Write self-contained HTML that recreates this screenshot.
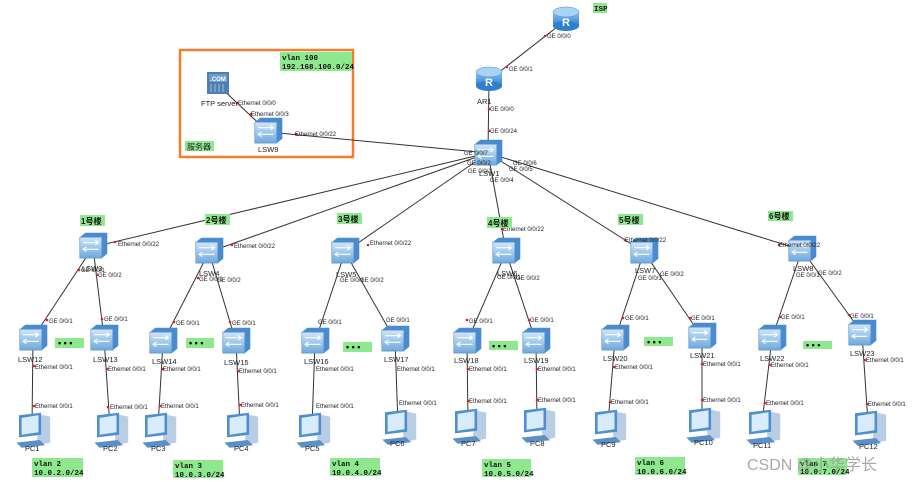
<!DOCTYPE html>
<html><head><meta charset="utf-8"><style>
html,body{margin:0;padding:0;background:#fff}
svg{display:block}
text{font-family:"Liberation Sans","Noto Sans CJK SC",sans-serif}
.p{font-size:6px;fill:#222}
.n{font-size:7.5px;fill:#222}
.m{font-family:"Liberation Mono","Noto Sans CJK SC",monospace;font-size:7.5px;fill:#111;font-weight:bold}
.g{fill:#8ee88e}
.l{stroke:#333;stroke-width:1;fill:none}
</style></head><body>
<svg width="915" height="482" viewBox="0 0 915 482" xmlns="http://www.w3.org/2000/svg">
<defs>
<linearGradient id="sg" x1="0" y1="0" x2="0" y2="1"><stop offset="0" stop-color="#cfe6fb"/><stop offset="1" stop-color="#6fa8dc"/></linearGradient>
<linearGradient id="rg" x1="0" y1="0" x2="0" y2="1"><stop offset="0" stop-color="#8cc2f0"/><stop offset="1" stop-color="#2f7fcf"/></linearGradient>
<g id="sw" transform="scale(1.1)">
<path d="M-12,-8 L-7,-12 L13,-12 L13,7 L8,11 L-12,11 Z" fill="#4a8bd0"/>
<rect x="-12" y="-8" width="20" height="19" fill="url(#sg)" stroke="#5b93c9" stroke-width="0.6"/>
<path d="M-9,-3 H5 M2,-5 L5,-3 L2,-1 M5,3 H-9 M-6,1 L-9,3 L-6,5" stroke="#fff" stroke-width="1" fill="none"/>
</g>
<g id="rt">
<rect x="-13" y="-6" width="26" height="14" fill="url(#rg)"/>
<ellipse cx="0" cy="8" rx="13" ry="5" fill="#2f7fcf"/>
<ellipse cx="0" cy="-6" rx="13" ry="5" fill="#a9d3f5" stroke="#4a8bd0" stroke-width="0.5"/>
<text x="0" y="8" font-size="11" fill="#fff" text-anchor="middle" font-weight="bold">R</text>
</g>
<g id="pc" transform="scale(1.3)">
<path d="M4,-10 L14,-8 L14,12 L4,14 Z" fill="#b9cde3"/>
<path d="M-10,-9 L7,-11 L7,6 L-10,8 Z" fill="#4f8fd0"/>
<path d="M-8,-7 L5,-9 L5,4 L-8,6 Z" fill="#d8ecfb"/>
<path d="M-12,12 L6,10 L10,14 L-8,16 Z" fill="#5a90c8"/>
</g>
</defs>

<rect x="180" y="50" width="173" height="107" fill="none" stroke="#f08030" stroke-width="2.5"/>
<rect x="280" y="52" width="72" height="19" class="g"/>
<text x="282" y="60" class="m">vlan 100</text>
<text x="282" y="69" class="m">192.168.100.0/24</text>
<rect x="185" y="141" width="29" height="10" class="g"/>
<text x="187" y="149.5" style="font-size:8px;fill:#222">服务器</text>
<rect x="593" y="3" width="14" height="10" class="g"/>
<text x="594" y="11" class="m">ISP</text>

<path class="l" d="M566,20 L489,80 M489,80 L488,153 M268,132 L488,153 M218,85 L268,132
M488,153 L93,247 M488,153 L209,252 M488,153 L345,252 M488,153 L506,252 M488,153 L644,252 M488,153 L802,250
M93,247 L33,338 M93,247 L104,338 M33,338 L32,427 M104,338 L110,427
M209,252 L163,342 M209,252 L236,342 M163,342 L158,427 M236,342 L240,427
M345,252 L315,342 M345,252 L395,340 M315,342 L312,427 M395,340 L398,425
M506,252 L467,342 M506,252 L536,342 M467,342 L468,422 M536,342 L537,422
M644,252 L615,339 M644,252 L702,337 M615,339 L608,423 M702,337 L702,422
M802,250 L772,338 M802,250 L862,333 M772,338 L762,423 M862,333 L868,423"/>

<g fill="#e02020">
<circle cx="545" cy="36" r="1.3"/><circle cx="507" cy="67" r="1.3"/><circle cx="489" cy="109" r="1.3"/><circle cx="489" cy="131" r="1.3"/>
<circle cx="296" cy="134" r="1.3"/><circle cx="237" cy="103" r="1.3"/><circle cx="251" cy="114" r="1.3"/>
<circle cx="115" cy="242" r="1.3"/><circle cx="232" cy="245" r="1.3"/><circle cx="368" cy="245" r="1.3"/><circle cx="502" cy="229" r="1.3"/><circle cx="625" cy="240" r="1.3"/><circle cx="779" cy="245" r="1.3"/>
<circle cx="79" cy="270" r="1.3"/><circle cx="97" cy="275" r="1.3"/><circle cx="47" cy="320" r="1.3"/><circle cx="102" cy="319" r="1.3"/>
<circle cx="34" cy="366" r="1.3"/><circle cx="34" cy="406" r="1.3"/><circle cx="107" cy="369" r="1.3"/><circle cx="108" cy="407" r="1.3"/>
<circle cx="198" cy="278" r="1.3"/><circle cx="174" cy="322" r="1.3"/><circle cx="230" cy="322" r="1.3"/><circle cx="163" cy="369" r="1.3"/><circle cx="160" cy="406" r="1.3"/><circle cx="238" cy="371" r="1.3"/><circle cx="240" cy="405" r="1.3"/>
<circle cx="467" cy="320" r="1.3"/><circle cx="529" cy="320" r="1.3"/><circle cx="468" cy="369" r="1.3"/><circle cx="468" cy="401" r="1.3"/><circle cx="537" cy="369" r="1.3"/><circle cx="537" cy="400" r="1.3"/>
<circle cx="623" cy="318" r="1.3"/><circle cx="690" cy="318" r="1.3"/><circle cx="614" cy="367" r="1.3"/><circle cx="610" cy="402" r="1.3"/><circle cx="702" cy="364" r="1.3"/><circle cx="702" cy="400" r="1.3"/>
<circle cx="780" cy="317" r="1.3"/><circle cx="849" cy="315" r="1.3"/><circle cx="770" cy="365" r="1.3"/><circle cx="765" cy="403" r="1.3"/><circle cx="865" cy="360" r="1.3"/><circle cx="867" cy="404" r="1.3"/>
</g>

<use href="#rt" x="566" y="18"/>
<use href="#rt" x="489" y="78"/>
<g transform="translate(207,72)"><rect x="0" y="0" width="22" height="22" fill="#4f7fb0"/><rect x="2" y="2" width="18" height="8" fill="#6e9cc8"/><text x="11" y="9" font-size="6" fill="#fff" text-anchor="middle" font-weight="bold">.COM</text><path d="M4,12 V20 M8,12 V20 M12,12 V20 M16,12 V20" stroke="#9fbfdc" stroke-width="1"/></g>
<use href="#sw" x="268" y="131"/>
<use href="#sw" x="488" y="153"/>
<use href="#sw" x="93" y="246"/><use href="#sw" x="209" y="251"/><use href="#sw" x="345" y="251"/><use href="#sw" x="506" y="251"/><use href="#sw" x="644" y="251"/><use href="#sw" x="802" y="249"/>
<use href="#sw" x="33" y="338"/><use href="#sw" x="104" y="338"/><use href="#sw" x="163" y="341"/><use href="#sw" x="236" y="341"/><use href="#sw" x="315" y="341"/><use href="#sw" x="395" y="339"/>
<use href="#sw" x="467" y="341"/><use href="#sw" x="536" y="341"/><use href="#sw" x="615" y="338"/><use href="#sw" x="702" y="336"/><use href="#sw" x="772" y="338"/><use href="#sw" x="862" y="333"/>
<use href="#pc" x="32" y="427"/><use href="#pc" x="110" y="427"/><use href="#pc" x="158" y="427"/><use href="#pc" x="240" y="427"/><use href="#pc" x="312" y="427"/><use href="#pc" x="398" y="424"/>
<use href="#pc" x="468" y="423"/><use href="#pc" x="537" y="422"/><use href="#pc" x="608" y="424"/><use href="#pc" x="702" y="422"/><use href="#pc" x="762" y="424"/><use href="#pc" x="868" y="425"/>

<g class="n">
<text x="477" y="104">AR1</text><text x="201" y="106">FTP server</text><text x="258" y="152">LSW9</text><text x="479" y="176">LSW1</text>
<text x="82" y="271">LSW3</text><text x="199" y="276">LSW4</text><text x="336" y="277">LSW5</text><text x="497" y="276">LSW6</text><text x="635" y="273">LSW7</text><text x="793" y="271">LSW8</text>
<text x="18" y="362">LSW12</text><text x="93" y="362">LSW13</text><text x="152" y="364">LSW14</text><text x="224" y="365">LSW15</text><text x="304" y="364">LSW16</text><text x="384" y="362">LSW17</text>
<text x="454" y="363">LSW18</text><text x="524" y="363">LSW19</text><text x="603" y="361">LSW20</text><text x="690" y="358">LSW21</text><text x="760" y="361">LSW22</text><text x="850" y="356">LSW23</text>
<text x="25" y="451">PC1</text><text x="103" y="451">PC2</text><text x="151" y="451">PC3</text><text x="234" y="451">PC4</text><text x="305" y="451">PC5</text><text x="390" y="446">PC6</text>
<text x="461" y="446">PC7</text><text x="530" y="446">PC8</text><text x="601" y="447">PC9</text><text x="694" y="445">PC10</text><text x="753" y="448">PC11</text><text x="859" y="449">PC12</text>
</g>

<g class="p">
<text x="547" y="38">GE 0/0/0</text><text x="509" y="71">GE 0/0/1</text><text x="490" y="111">GE 0/0/0</text><text x="490" y="133">GE 0/0/24</text>
<text x="238" y="105">Ethernet 0/0/0</text><text x="251" y="116">Ethernet 0/0/3</text><text x="295" y="136">Ethernet 0/0/22</text>
<text x="464" y="155">GE 0/0/7</text><text x="467" y="165">GE 0/0/2</text><text x="468" y="173">GE 0/0/1</text><text x="490" y="182">GE 0/0/4</text><text x="513" y="165">GE 0/0/6</text><text x="509" y="171">GE 0/0/5</text>
<text x="118" y="246">Ethernet 0/0/22</text><text x="234" y="248">Ethernet 0/0/22</text><text x="370" y="245">Ethernet 0/0/22</text><text x="503" y="231">Ethernet 0/0/22</text><text x="625" y="242">Ethernet 0/0/22</text><text x="779" y="247">Ethernet 0/0/22</text>
<text x="81" y="272">GE 0/0/1</text><text x="98" y="277">GE 0/0/2</text><text x="199" y="281">GE 0/0/1</text><text x="217" y="282">GE 0/0/2</text>
<text x="340" y="282">GE 0/0/1</text><text x="360" y="282">GE 0/0/2</text><text x="497" y="279">GE 0/0/1</text><text x="516" y="280">GE 0/0/2</text>
<text x="638" y="280">GE 0/0/1</text><text x="660" y="276">GE 0/0/2</text><text x="796" y="277">GE 0/0/1</text><text x="818" y="275">GE 0/0/2</text>
<text x="49" y="323">GE 0/0/1</text><text x="104" y="321">GE 0/0/1</text><text x="176" y="325">GE 0/0/1</text><text x="232" y="325">GE 0/0/1</text>
<text x="318" y="324">GE 0/0/1</text><text x="386" y="322">GE 0/0/1</text><text x="469" y="323">GE 0/0/1</text><text x="530" y="322">GE 0/0/1</text>
<text x="625" y="320">GE 0/0/1</text><text x="691" y="320">GE 0/0/1</text><text x="781" y="319">GE 0/0/1</text><text x="850" y="318">GE 0/0/1</text>
<text x="35" y="369">Ethernet 0/0/1</text><text x="35" y="408">Ethernet 0/0/1</text><text x="108" y="371">Ethernet 0/0/1</text><text x="110" y="409">Ethernet 0/0/1</text>
<text x="163" y="371">Ethernet 0/0/1</text><text x="161" y="408">Ethernet 0/0/1</text><text x="239" y="373">Ethernet 0/0/1</text><text x="241" y="407">Ethernet 0/0/1</text>
<text x="316" y="371">Ethernet 0/0/1</text><text x="316" y="408">Ethernet 0/0/1</text><text x="397" y="371">Ethernet 0/0/1</text><text x="399" y="405">Ethernet 0/0/1</text>
<text x="469" y="371">Ethernet 0/0/1</text><text x="469" y="403">Ethernet 0/0/1</text><text x="538" y="371">Ethernet 0/0/1</text><text x="538" y="402">Ethernet 0/0/1</text>
<text x="615" y="369">Ethernet 0/0/1</text><text x="611" y="404">Ethernet 0/0/1</text><text x="703" y="366">Ethernet 0/0/1</text><text x="703" y="402">Ethernet 0/0/1</text>
<text x="771" y="367">Ethernet 0/0/1</text><text x="766" y="405">Ethernet 0/0/1</text><text x="866" y="362">Ethernet 0/0/1</text><text x="868" y="406">Ethernet 0/0/1</text>
</g>

<g style="font-size:8px;fill:#111;font-weight:bold">
<rect x="80" y="215" width="25" height="11" class="g"/><text x="81" y="224">1号楼</text>
<rect x="205" y="214" width="25" height="11" class="g"/><text x="206" y="223">2号楼</text>
<rect x="337" y="213" width="25" height="11" class="g"/><text x="338" y="222">3号楼</text>
<rect x="487" y="217" width="25" height="11" class="g"/><text x="488" y="226">4号楼</text>
<rect x="618" y="214" width="25" height="11" class="g"/><text x="619" y="223">5号楼</text>
<rect x="768" y="211" width="25" height="10" class="g"/><text x="769" y="219">6号楼</text>
</g>
<g>
<rect x="55" y="338" width="29" height="10" class="g"/><text x="58" y="346" style="font-size:9px;font-weight:bold">• • •</text>
<rect x="186" y="338" width="28" height="10" class="g"/><text x="189" y="346" style="font-size:9px;font-weight:bold">• • •</text>
<rect x="343" y="342" width="29" height="10" class="g"/><text x="346" y="350" style="font-size:9px;font-weight:bold">• • •</text>
<rect x="489" y="341" width="29" height="9" class="g"/><text x="492" y="349" style="font-size:9px;font-weight:bold">• • •</text>
<rect x="644" y="337" width="29" height="9" class="g"/><text x="647" y="345" style="font-size:9px;font-weight:bold">• • •</text>
<rect x="803" y="341" width="29" height="8" class="g"/><text x="806" y="348" style="font-size:9px;font-weight:bold">• • •</text>
</g>
<rect x="32" y="458" width="51" height="19" class="g"/><text x="34" y="466" class="m">vlan 2</text><text x="34" y="475" class="m">10.0.2.0/24</text>
<rect x="173" y="460" width="50" height="18" class="g"/><text x="175" y="468" class="m">vlan 3</text><text x="175" y="477" class="m">10.0.3.0/24</text>
<rect x="330" y="458" width="50" height="18" class="g"/><text x="332" y="466" class="m">vlan 4</text><text x="332" y="475" class="m">10.0.4.0/24</text>
<rect x="482" y="459" width="49" height="18" class="g"/><text x="484" y="467" class="m">vlan 5</text><text x="484" y="476" class="m">10.0.5.0/24</text>
<rect x="635" y="457" width="50" height="18" class="g"/><text x="637" y="465" class="m">vlan 6</text><text x="637" y="474" class="m">10.0.6.0/24</text>
<rect x="798" y="458" width="49" height="17" class="g"/><text x="800" y="466" class="m">vlan 7</text><text x="800" y="474" class="m">10.0.7.0/24</text>
<text x="747" y="470" style="font-size:16px;fill:#9a9a9a;opacity:0.85">CSDN @小华学长</text>
</svg>
</body></html>
